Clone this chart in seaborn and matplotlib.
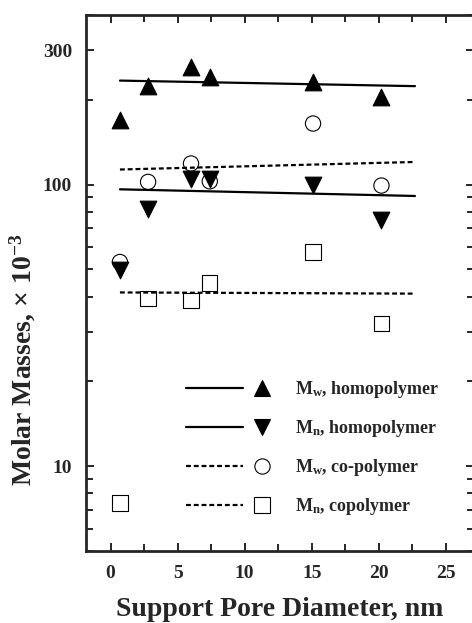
import numpy as np
import pandas as pd
import seaborn as sns
import matplotlib
matplotlib.use('Agg')
import matplotlib.pyplot as plt
from matplotlib.lines import Line2D
from matplotlib.legend_handler import HandlerBase
from matplotlib.ticker import LogLocator, NullFormatter

# values (molar masses x 10^-3)
pore = [0.7, 2.8, 6.0, 7.4, 15.1, 20.2]
mw_homo = [170, 224, 262, 241, 232, 205]
mn_homo = [49.6, 82.2, 104.4, 104.4, 99.4, 74.6]
mw_co = [53.1, 102.2, 118.8, 102.7, 164.7, 99.2]
mn_co = [7.4, 39.5, 38.8, 44.7, 57.6, 32.2]

# trend lines, end points
fit_x = [0.7, 22.7]
fit_mw_homo = [234, 223.6]
fit_mn_homo = [96.2, 91.1]
fit_mw_co = [113.1, 120.3]
fit_mn_co = [41.4, 41.0]

labels = [r'M$_\mathbf{w}$, homopolymer', r'M$_\mathbf{n}$, homopolymer',
          r'M$_\mathbf{w}$, co-polymer', r'M$_\mathbf{n}$, copolymer']

sns.set_style('ticks')
plt.rcParams['font.family'] = ['Liberation Serif', 'DejaVu Serif']
plt.rcParams['font.weight'] = 'bold'
plt.rcParams['axes.labelweight'] = 'bold'
plt.rcParams['mathtext.fontset'] = 'custom'
plt.rcParams['mathtext.rm'] = 'Liberation Serif'
plt.rcParams['mathtext.bf'] = 'Liberation Serif:bold'
plt.rcParams['mathtext.it'] = 'Liberation Serif:italic'

dash = (0, (2.2, 1.3))
# open markers are see-through, so overlapping points stay visible
series = [
    (mw_co, fit_mw_co, 'o', 'none', dash, 121),
    (mn_co, fit_mn_co, 's', 'none', dash, 121),
    (mw_homo, fit_mw_homo, '^', 'black', '-', 144),
    (mn_homo, fit_mn_homo, 'v', 'black', '-', 144),
]
order = [2, 3, 0, 1]  # legend order


class LineMarkerHandler(HandlerBase):
    """line segment first, marker after it"""
    def create_artists(self, legend, orig_handle, xdescent, ydescent,
                       width, height, fontsize, trans):
        y = height / 2 - ydescent
        x0 = -xdescent
        seg = Line2D([x0, x0 + 0.61 * width], [y, y])
        seg.update_from(orig_handle)
        seg.set_marker('None')
        mk = Line2D([x0 + 0.81 * width], [y])
        mk.update_from(orig_handle)
        mk.set_linestyle('None')
        seg.set_transform(trans)
        mk.set_transform(trans)
        return [seg, mk]


fig = plt.figure(figsize=(4.72, 6.23), dpi=100)
ax = fig.add_axes([0.1822, 0.1156, 0.822, 0.8603])

handles = []
for vals, fit, marker, face, ls, size in series:
    df = pd.DataFrame({'pore': pore, 'mass': vals})
    if face == 'none':
        sns.scatterplot(data=df, x='pore', y='mass', marker=marker, s=size,
                        facecolor='none', edgecolor='black', linewidth=0.8,
                        ax=ax, zorder=3)
    else:
        sns.scatterplot(data=df, x='pore', y='mass', marker=marker, s=size,
                        color=face, edgecolor='black', linewidth=0.8,
                        ax=ax, zorder=3)
    sns.lineplot(x=fit_x, y=fit, color='black', linewidth=1.6, linestyle=ls, ax=ax)
    handles.append(Line2D([], [], color='black', linewidth=1.6, linestyle=ls,
                          marker=marker, markersize=np.sqrt(size), markerfacecolor=face,
                          markeredgecolor='black', markeredgewidth=0.8))

ax.set_yscale('log')
ax.set_xlim(-1.83, 27.1)
ax.set_ylim(5, 400)
ax.set_xticks([0, 5, 10, 15, 20, 25])
ax.set_xticks([2.5, 7.5, 12.5, 17.5, 22.5], minor=True)
ax.set_yticks([10, 100, 300])
ax.set_yticklabels(['10', '100', '300'])
ax.yaxis.set_minor_locator(LogLocator(base=10, subs=np.arange(2, 10)))
ax.yaxis.set_minor_formatter(NullFormatter())

ax.tick_params(axis='both', which='both', direction='in', top=True, right=True,
               width=1.4, labelsize=14, pad=10)
ax.tick_params(which='major', length=6)
ax.tick_params(which='minor', length=5)
for sp in ax.spines.values():
    sp.set_linewidth(2)

ax.set_xlabel('Support Pore Diameter, nm', fontsize=20, labelpad=11)
ax.set_ylabel(r'Molar Masses, $\times$ 10$^{\mathbf{-3}}$', fontsize=20)
ax.yaxis.set_label_coords(-0.124, 0.356)

ax.legend([handles[i] for i in order], labels, handler_map={Line2D: LineMarkerHandler()},
          loc='upper left', bbox_to_anchor=(0.258, 0.321), frameon=False,
          fontsize=13, borderpad=0, borderaxespad=0, handlelength=5.2,
          handletextpad=0.83, labelspacing=1.0)

fig.savefig('out.png', dpi=100)
